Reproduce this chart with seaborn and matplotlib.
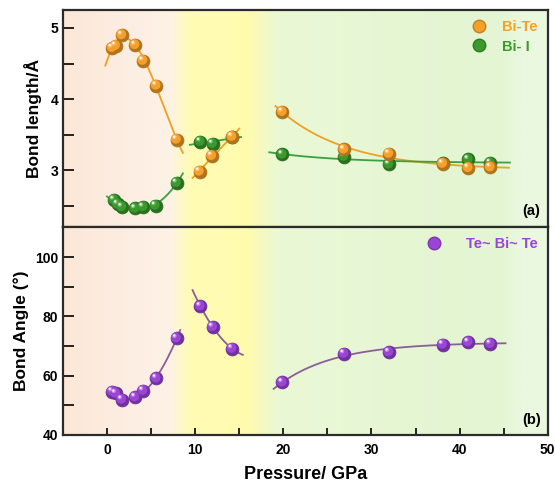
import numpy as np
import pandas as pd
import matplotlib
matplotlib.use("Agg")
import matplotlib.pyplot as plt
import seaborn as sns
from matplotlib.colors import LinearSegmentedColormap, to_rgb
from matplotlib import transforms
from matplotlib.lines import Line2D

# ---------------- data ----------------
bite_p1 = [0.6, 1.0, 1.7, 3.2, 4.1, 5.6, 7.9]
bite_v1 = [4.72, 4.75, 4.90, 4.76, 4.54, 4.19, 3.43]
bite_p2 = [10.5, 11.9, 14.2]
bite_v2 = [2.98, 3.20, 3.47]
bite_p3 = [19.9, 26.9, 32.0, 38.1, 41.0, 43.5]
bite_v3 = [3.82, 3.29, 3.23, 3.09, 3.03, 3.04]

bii_p1 = [0.8, 1.2, 1.7, 3.2, 4.1, 5.5, 7.9]
bii_v1 = [2.58, 2.52, 2.48, 2.46, 2.48, 2.50, 2.82]
bii_p2 = [10.6, 12.0, 14.2]
bii_v2 = [3.40, 3.37, 3.46]
bii_p3 = [19.9, 26.9, 32.0, 38.1, 41.0, 43.5]
bii_v3 = [3.22, 3.19, 3.08, 3.10, 3.15, 3.10]

ang_p1 = [0.6, 1.0, 1.7, 3.2, 4.1, 5.6, 7.9]
ang_v1 = [54.6, 54.0, 51.9, 52.7, 54.9, 59.1, 72.6]
ang_p2 = [10.6, 12.0, 14.2]
ang_v2 = [83.4, 76.4, 69.1]
ang_p3 = [19.9, 26.9, 32.0, 38.1, 41.0, 43.5]
ang_v3 = [57.7, 67.4, 67.9, 70.5, 71.3, 70.7]

# x-ranges of the fitted curves
bite_ranges = [(-0.2, 8.6), (9.7, 15.0), (19.1, 45.6)]
bii_ranges = [(0.0, 8.6), (9.4, 15.2), (18.4, 45.7)]
ang_ranges = [(0.35, 8.3), (9.7, 15.4), (18.9, 45.2)]

ORANGE = "#f4a02a"
ORANGE_L = "#f0a020"
GREEN = "#3a9a2c"
GREEN_L = "#3aa040"
PURPLE = "#9b45d6"
PURPLE_L = "#8a5e96"

plt.rcParams['font.family'] = ['Liberation Sans', 'DejaVu Sans']
plt.rcParams['font.weight'] = 'bold'


def exp_fit(x, y, xs):
    x = np.asarray(x, float); y = np.asarray(y, float)
    best = None
    for tau in np.linspace(1, 30, 600):
        A = np.column_stack([np.ones_like(x), np.exp(-(x - x[0]) / tau)])
        coef, res, *_ = np.linalg.lstsq(A, y, rcond=None)
        err = np.sum((A @ coef - y) ** 2)
        if best is None or err < best[0]:
            best = (err, tau, coef)
    _, tau, coef = best
    return coef[0] + coef[1] * np.exp(-(xs - x[0]) / tau)


def poly_fit(x, y, deg, xs):
    return np.polyval(np.polyfit(x, y, deg), xs)


def fit_frame(segs, ranges):
    frames = []
    for i, ((px, vy, kind), (a, b)) in enumerate(zip(segs, ranges)):
        xs = np.linspace(a, b, 200)
        if kind == "exp":
            ys = exp_fit(px, vy, xs)
        else:
            ys = poly_fit(px, vy, kind, xs)
        frames.append(pd.DataFrame({"p": xs, "v": ys, "seg": i}))
    return pd.concat(frames)


def sphere(ax, x, y, color, size=85, zorder=5):
    df = pd.DataFrame({"p": x, "v": y})
    c = np.array(to_rgb(color))
    dark = tuple(c * 0.72)
    light = tuple(c + (1 - c) * 0.35)
    sns.scatterplot(data=df, x="p", y="v", ax=ax, s=size, color=dark,
                    edgecolor=dark, linewidth=0.6, zorder=zorder, legend=False)
    tr = transforms.offset_copy(ax.transData, fig=ax.figure, x=-0.6, y=0.6, units='points')
    ax.scatter(x, y, s=size * 0.6, color=color, edgecolor='none', zorder=zorder + 0.1, transform=tr)
    tr2 = transforms.offset_copy(ax.transData, fig=ax.figure, x=-1.6, y=1.8, units='points')
    ax.scatter(x, y, s=size * 0.12, color=light, edgecolor='none', zorder=zorder + 0.2, transform=tr2)
    tr3 = transforms.offset_copy(ax.transData, fig=ax.figure, x=-1.8, y=2.0, units='points')
    ax.scatter(x, y, s=size * 0.03, color='white', alpha=0.9, edgecolor='none', zorder=zorder + 0.3, transform=tr3)


fig = plt.figure(figsize=(5.55, 4.87), dpi=100)
ax1 = fig.add_axes([0.1135, 0.534, 0.8735, 0.445])
ax2 = fig.add_axes([0.1135, 0.107, 0.8735, 0.427])

# background gradient
stops = [(-5, "#fce7d7"), (3, "#fdeee3"), (7, "#fdf2e6"), (9.5, "#fffcb4"),
         (16, "#fffbae"), (19.5, "#eaf8d6"), (44, "#e3f5d2"), (47, "#e9f8de"), (50, "#eaf8e0")]
cmap = LinearSegmentedColormap.from_list("bg", [((s + 5) / 55, c) for s, c in stops])
grad = np.linspace(0, 1, 512).reshape(1, -1)

for ax, ylim in ((ax1, (2.2, 5.25)), (ax2, (40, 110.2))):
    ax.imshow(grad, aspect='auto', cmap=cmap, extent=(-5, 50, ylim[0], ylim[1]), zorder=0)
    ax.set_xlim(-5, 50)
    ax.set_ylim(*ylim)
    for sp in ax.spines.values():
        sp.set_linewidth(1.6)
        sp.set_color("#2b2b2b")

# fitted curves
fb = fit_frame([(bite_p1, bite_v1, 3), (bite_p2, bite_v2, 1), (bite_p3, bite_v3, "exp")], bite_ranges)
fg = fit_frame([(bii_p1, bii_v1, 3), (bii_p2, bii_v2, 1), (bii_p3, bii_v3, "exp")], bii_ranges)
fa = fit_frame([(ang_p1, ang_v1, 3), (ang_p2, ang_v2, 2), (ang_p3, ang_v3, "exp")], ang_ranges)
sns.lineplot(data=fb, x="p", y="v", units="seg", estimator=None, ax=ax1, color=ORANGE_L, lw=1.3, zorder=3, sort=False)
sns.lineplot(data=fg, x="p", y="v", units="seg", estimator=None, ax=ax1, color=GREEN_L, lw=1.3, zorder=3, sort=False)
sns.lineplot(data=fa, x="p", y="v", units="seg", estimator=None, ax=ax2, color=PURPLE_L, lw=1.3, zorder=3, sort=False)

sphere(ax1, bii_p1 + bii_p2 + bii_p3, bii_v1 + bii_v2 + bii_v3, GREEN, zorder=5)
sphere(ax1, bite_p1 + bite_p2 + bite_p3, bite_v1 + bite_v2 + bite_v3, ORANGE, zorder=6)
sphere(ax2, ang_p1 + ang_p2 + ang_p3, ang_v1 + ang_v2 + ang_v3, PURPLE, zorder=5)

# ticks
ax1.set_xticks(np.arange(-5, 51, 5))
ax1.tick_params(axis='x', bottom=False, labelbottom=False)
ax1.set_yticks([3, 4, 5])
ax1.set_yticks(np.arange(2.5, 5.01, 0.5), minor=True)
ax1.tick_params(axis='y', which='both', direction='in', length=8, width=1.2, labelsize=10)
ax2.set_xticks([0, 10, 20, 30, 40, 50])
ax2.set_xticks(np.arange(-5, 51, 5), minor=True)
ax2.tick_params(axis='x', which='both', direction='in', length=5, width=1.2, labelsize=10, pad=6)
ax2.set_yticks([40, 60, 80, 100])
ax2.set_yticks(np.arange(40, 101, 10), minor=True)
ax2.tick_params(axis='y', which='both', direction='in', length=8, width=1.2, labelsize=10)
for ax in (ax1, ax2):
    for lab in ax.get_xticklabels() + ax.get_yticklabels():
        lab.set_fontweight('bold')

ax1.set_xlabel("")
ax1.set_ylabel("Bond length/Å", fontsize=12.5, fontweight='bold', labelpad=6)
ax2.set_ylabel("Bond Angle (°)", fontsize=12.5, fontweight='bold', labelpad=4)
ax2.set_xlabel("Pressure/ GPa", fontsize=13, fontweight='bold', labelpad=6)

ax1.text(0.985, 0.04, "(a)", transform=ax1.transAxes, ha='right', va='bottom', fontsize=10.5, fontweight='bold')
ax2.text(0.985, 0.04, "(b)", transform=ax2.transAxes, ha='right', va='bottom', fontsize=10.5, fontweight='bold')

# legends
h1 = [Line2D([], [], ls='none', marker='o', ms=9, mfc=ORANGE, mec=tuple(np.array(to_rgb(ORANGE)) * 0.8)),
      Line2D([], [], ls='none', marker='o', ms=9, mfc=GREEN, mec=tuple(np.array(to_rgb(GREEN)) * 0.8))]
leg1 = ax1.legend(h1, ["Bi-Te", "Bi- I"], loc='upper right', frameon=False,
                  handletextpad=0.6, borderaxespad=0.3, labelspacing=0.35, prop={'weight': 'bold', 'size': 10.5})
for t, c in zip(leg1.get_texts(), [ORANGE, GREEN]):
    t.set_color(c)
h2 = [Line2D([], [], ls='none', marker='o', ms=9, mfc=PURPLE, mec=tuple(np.array(to_rgb(PURPLE)) * 0.8))]
leg2 = ax2.legend(h2, ["Te~ Bi~ Te"], loc='upper right', frameon=False,
                  handletextpad=1.2, borderaxespad=0.3, prop={'weight': 'bold', 'size': 10.5})
for t in leg2.get_texts():
    t.set_color(PURPLE)

fig.savefig("out.png", dpi=100)
